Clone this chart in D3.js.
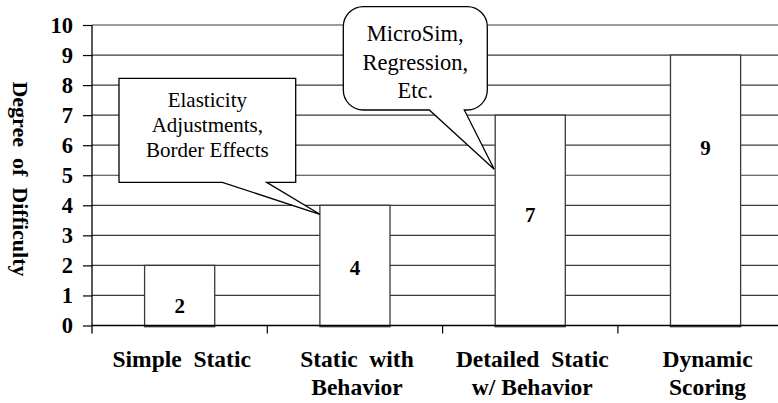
<!DOCTYPE html>
<html>
<head>
<meta charset="utf-8">
<script src="https://cdn.jsdelivr.net/npm/d3@7"></script>
<style>
  body { margin: 0; background: #fff; }
  #chart text, #chart tspan { font-family: "Liberation Serif", "Times New Roman", serif !important; }
</style>
</head>
<body>
<svg id="chart" width="778" height="403"></svg>
<script>
var categories = [["Simple  Static"], ["Static  with", "Behavior"], ["Detailed  Static", "w/ Behavior"], ["Dynamic", "Scoring"]]
var values = [2, 4, 7, 9]
// where each value label sits, read in axis units
var labelAt = [0.43, 1.68, 3.43, 5.69]
var yTicks = [0, 1, 2, 3, 4, 5, 6, 7, 8, 9, 10]
var callout1 = ["Elasticity", "Adjustments,", "Border Effects"]
var callout2 = ["MicroSim,", "Regression,", "Etc."]

var fontName = "'Liberation Serif', 'Times New Roman', serif"
var width = 778
var height = 403
var margin = { top: 25, left: 92, bottom: 77.5 }
var plotRight = 793.2

var svg = d3.select("#chart")
  .style("font-family", fontName)

var y = d3.scaleLinear()
  .domain([0, 10])
  .range([height - margin.bottom, margin.top])

var x = d3.scaleBand()
  .domain(d3.range(values.length))
  .range([margin.left, plotRight])
  .paddingInner(0.6)
  .paddingOuter(0.3)

// gridlines
svg.append("g")
  .selectAll("line")
  .data(yTicks.slice(1))
  .enter().append("line")
  .attr("x1", margin.left)
  .attr("x2", plotRight)
  .attr("y1", function(d) { return y(d) })
  .attr("y2", function(d) { return y(d) })
  .attr("stroke", "#3a3a3a")
  .attr("stroke-width", 1.2)

// bars
svg.append("g")
  .selectAll("rect")
  .data(values)
  .enter().append("rect")
  .attr("x", function(d, i) { return x(i) })
  .attr("y", function(d) { return y(d) })
  .attr("width", x.bandwidth())
  .attr("height", function(d) { return y(0) - y(d) + 1.2 })
  .attr("fill", "#fff")
  .attr("stroke", "#3a3a3a")
  .attr("stroke-width", 1.3)

svg.append("g")
  .selectAll("text")
  .data(values)
  .enter().append("text")
  .attr("x", function(d, i) { return x(i) + x.bandwidth() / 2 })
  .attr("y", function(d, i) { return y(labelAt[i]) })
  .attr("text-anchor", "middle")
  .style("font-family", fontName)
  .style("font-size", "21px")
  .style("font-weight", "bold")
  .text(function(d) { return d })

// y axis
var yAxis = svg.append("g")
  .attr("transform", "translate(" + margin.left + ",0)")
  .call(d3.axisLeft(y).tickValues(yTicks).tickSize(9).tickPadding(10))
yAxis.attr("font-family", null).attr("font-size", null)
yAxis.select(".domain")
  .attr("d", "M0," + y(10) + "V" + (y(0) + 8))
  .attr("stroke", "#000")
  .attr("stroke-width", 1.3)
yAxis.selectAll(".tick line").attr("stroke", "#000").attr("stroke-width", 1.2)
yAxis.selectAll(".tick text")
  .style("font-family", fontName)
  .style("font-size", "22.5px")
  .style("font-weight", "bold")
  .attr("fill", "#000")

// x axis line and category dividers
svg.append("line")
  .attr("x1", margin.left)
  .attr("x2", plotRight)
  .attr("y1", y(0))
  .attr("y2", y(0))
  .attr("stroke", "#000")
  .attr("stroke-width", 1.3)

svg.append("g")
  .selectAll("line")
  .data(d3.range(1, values.length))
  .enter().append("line")
  .attr("x1", function(i) { return x(i) - x.step() * 0.3 })
  .attr("x2", function(i) { return x(i) - x.step() * 0.3 })
  .attr("y1", y(0))
  .attr("y2", y(0) + 8)
  .attr("stroke", "#000")
  .attr("stroke-width", 1.2)

var cat = svg.append("g")
  .selectAll("text")
  .data(categories)
  .enter().append("text")
  .attr("x", function(d, i) { return x(i) + x.bandwidth() / 2 + 2 })
  .attr("y", y(0) + 41.5)
  .attr("text-anchor", "middle")
  .style("font-family", fontName)
  .style("font-size", "23.5px")
  .style("font-weight", "bold")
  .style("white-space", "pre")

cat.selectAll("tspan")
  .data(function(d) { return d })
  .enter().append("tspan")
  .attr("x", function() { return d3.select(this.parentNode).attr("x") })
  .attr("dy", function(d, i) { return i ? 28 : 0 })
  .text(function(d) { return d })

// axis title
svg.append("text")
  .attr("transform", "translate(13,179) rotate(90)")
  .attr("text-anchor", "middle")
  .style("font-family", fontName)
  .style("font-size", "22px")
  .style("font-weight", "bold")
  .style("white-space", "pre")
  .text("Degree  of  Difficulty")

// callout 1: square box pointing at bar 2
var tip1 = [x(1), y(3.7)]
var b1 = { x0: 119, x1: 295.7, y0: 78.3, y1: 182.3, p0: 222.3, p1: 266.7 }
svg.append("path")
  .attr("d", "M" + b1.x0 + "," + b1.y0 + "H" + b1.x1 + "V" + b1.y1 + "H" + b1.p1 +
    "L" + tip1[0] + "," + tip1[1] + "L" + b1.p0 + "," + b1.y1 + "H" + b1.x0 + "Z")
  .attr("fill", "#fff")
  .attr("stroke", "#000")
  .attr("stroke-width", 1.3)

svg.append("g")
  .selectAll("text")
  .data(callout1)
  .enter().append("text")
  .attr("x", (b1.x0 + b1.x1) / 2)
  .attr("y", function(d, i) { return 106.5 + i * 25 })
  .attr("text-anchor", "middle")
  .style("font-family", fontName)
  .style("font-size", "21px")
  .text(function(d) { return d })

// callout 2: rounded box pointing at bar 3
var tip2 = [x(2) - 1, y(5.2)]
var b2 = { x0: 343.3, x1: 487.3, y0: 6.7, y1: 110, r: 20, p0: 429.3, p1: 464.3 }
var path2 = d3.path()
path2.moveTo(b2.x0 + b2.r, b2.y0)
path2.lineTo(b2.x1 - b2.r, b2.y0)
path2.arcTo(b2.x1, b2.y0, b2.x1, b2.y0 + b2.r, b2.r)
path2.lineTo(b2.x1, b2.y1 - b2.r)
path2.arcTo(b2.x1, b2.y1, b2.x1 - b2.r, b2.y1, b2.r)
path2.lineTo(b2.p1, b2.y1)
path2.lineTo(tip2[0], tip2[1])
path2.lineTo(b2.p0, b2.y1)
path2.lineTo(b2.x0 + b2.r, b2.y1)
path2.arcTo(b2.x0, b2.y1, b2.x0, b2.y1 - b2.r, b2.r)
path2.lineTo(b2.x0, b2.y0 + b2.r)
path2.arcTo(b2.x0, b2.y0, b2.x0 + b2.r, b2.y0, b2.r)
path2.closePath()

svg.append("path")
  .attr("d", path2.toString())
  .attr("fill", "#fff")
  .attr("stroke", "#000")
  .attr("stroke-width", 1.3)

svg.append("g")
  .selectAll("text")
  .data(callout2)
  .enter().append("text")
  .attr("x", (b2.x0 + b2.x1) / 2)
  .attr("y", function(d, i) { return 41 + i * 28.5 })
  .attr("text-anchor", "middle")
  .style("font-family", fontName)
  .style("font-size", "22.5px")
  .text(function(d) { return d })
</script>
</body>
</html>
